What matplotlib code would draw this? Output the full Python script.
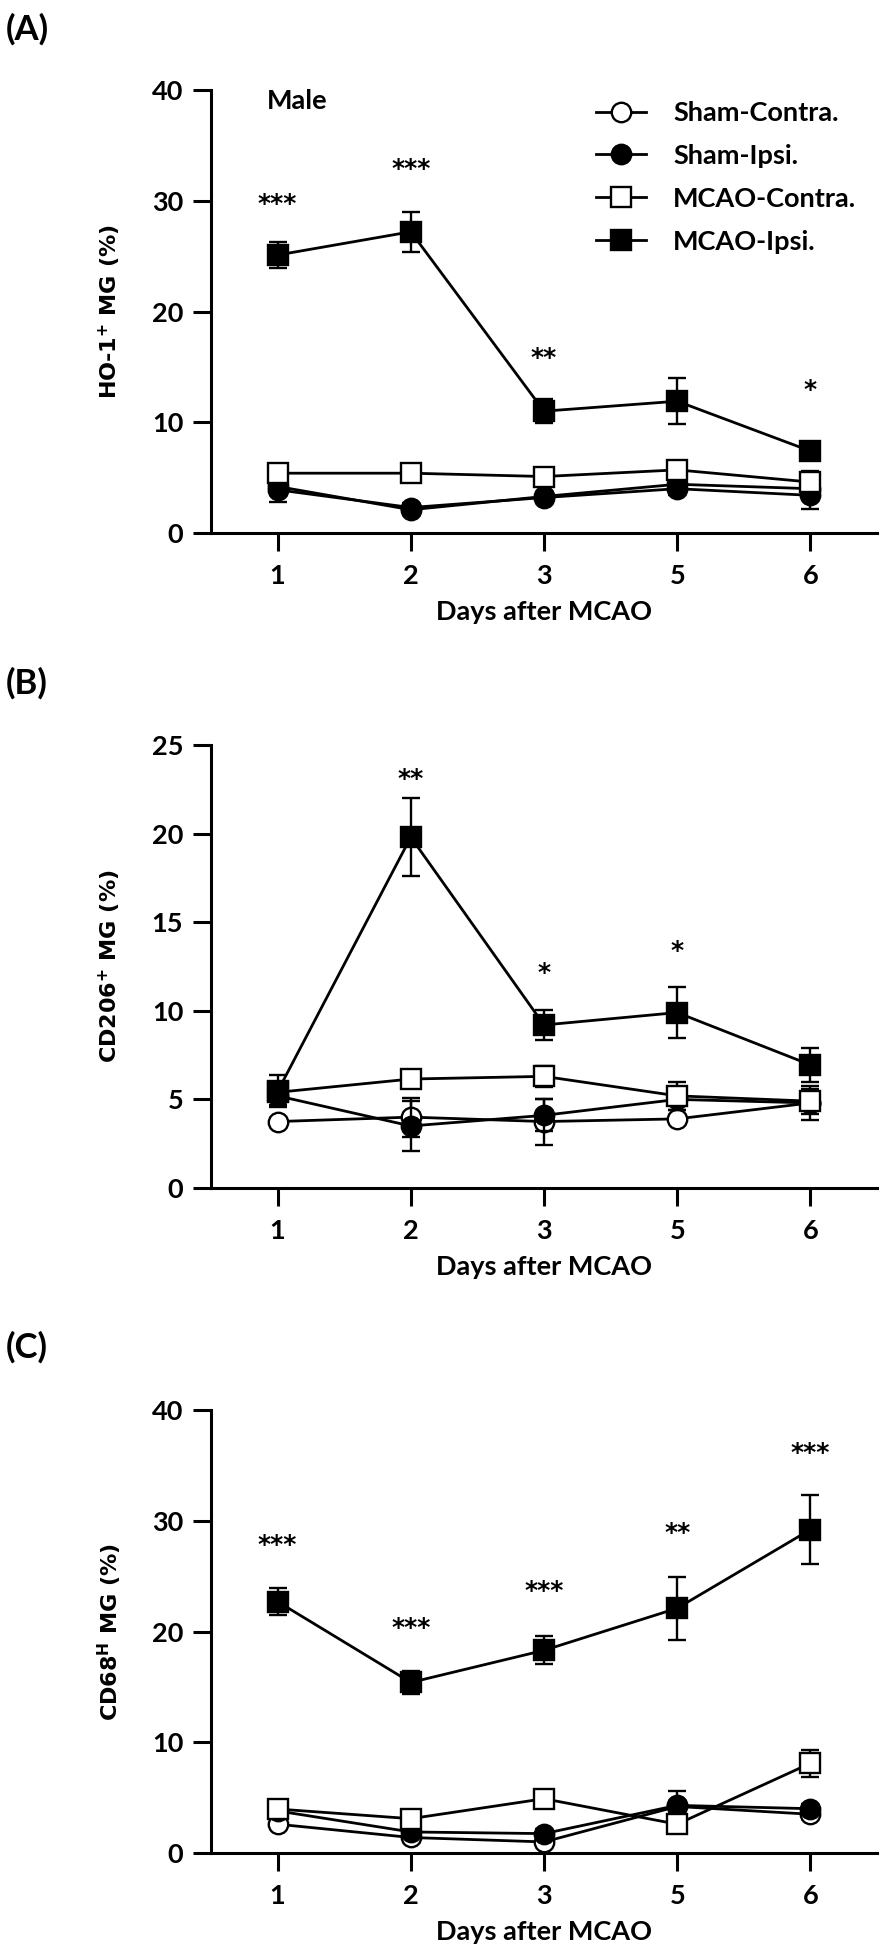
import matplotlib
matplotlib.use('Agg')
import matplotlib.pyplot as plt
from matplotlib.lines import Line2D

plt.rcParams['font.family'] = ['Lato', 'DejaVu Sans']
plt.rcParams['font.weight'] = 'bold'
plt.rcParams['mathtext.fontset'] = 'dejavusans'

days = ['1', '2', '3', '5', '6']
groups = ['Sham-Contra.', 'Sham-Ipsi.', 'MCAO-Contra.', 'MCAO-Ipsi.']

# (A) HO-1+ MG
ho1_sham_contra = [4.2, 2.1, 3.3, 4.4, 4.0]
ho1_sham_contra_err = [0.5, 0.3, 0.3, 0.5, 0.6]
ho1_sham_ipsi = [3.9, 2.3, 3.2, 4.0, 3.4]
ho1_sham_ipsi_err = [1.1, 0.4, 0.3, 0.6, 1.2]
ho1_mcao_contra = [5.4, 5.4, 5.1, 5.7, 4.6]
ho1_mcao_contra_err = [0.4, 0.3, 0.3, 0.4, 1.0]
ho1_mcao_ipsi = [25.1, 27.2, 11.0, 11.9, 7.4]
ho1_mcao_ipsi_err = [1.2, 1.8, 1.1, 2.1, 0.8]
ho1_stars = ['***', '***', '**', '', '*']
ho1_star_y = [30.3, 33.5, 16.4, 0, 13.5]

# (B) CD206+ MG
cd206_sham_contra = [3.75, 4.0, 3.75, 3.9, 4.8]
cd206_sham_contra_err = [0.2, 1.1, 1.3, 0.2, 0.4]
cd206_sham_ipsi = [5.2, 3.5, 4.1, 5.0, 4.8]
cd206_sham_ipsi_err = [0.5, 1.4, 0.9, 0.6, 0.95]
cd206_mcao_contra = [5.4, 6.15, 6.3, 5.2, 4.9]
cd206_mcao_contra_err = [0.5, 0.3, 0.6, 0.8, 0.7]
cd206_mcao_ipsi = [5.45, 19.8, 9.2, 9.9, 6.95]
cd206_mcao_ipsi_err = [0.9, 2.2, 0.85, 1.45, 0.95]
cd206_stars = ['', '**', '*', '*', '']
cd206_star_y = [0, 23.5, 12.5, 13.75, 0]

# (C) CD68H MG
cd68_sham_contra = [2.6, 1.4, 1.0, 4.2, 3.5]
cd68_sham_contra_err = [0.3, 0.3, 0.3, 0.5, 0.4]
cd68_sham_ipsi = [3.8, 1.9, 1.75, 4.3, 4.0]
cd68_sham_ipsi_err = [0.4, 0.4, 0.4, 1.3, 0.4]
cd68_mcao_contra = [3.97, 3.1, 4.9, 2.6, 8.1]
cd68_mcao_contra_err = [0.3, 0.3, 0.4, 0.5, 1.2]
cd68_mcao_ipsi = [22.7, 15.4, 18.3, 22.1, 29.2]
cd68_mcao_ipsi_err = [1.2, 1.0, 1.25, 2.85, 3.15]
cd68_stars = ['***', '***', '***', '**', '***']
cd68_star_y = [28.4, 20.9, 24.3, 29.5, 36.7]

styles = [('o', 'white'), ('o', 'black'), ('s', 'white'), ('s', 'black')]

W, H = 886, 1957
fig = plt.figure(figsize=(W / 100, H / 100), dpi=100)

panels = [
    ('(A)', r'HO-1$^{\mathbf{+}}$ MG (%)', 40, [0, 10, 20, 30, 40], 90, 533,
     [(ho1_sham_contra, ho1_sham_contra_err), (ho1_sham_ipsi, ho1_sham_ipsi_err),
      (ho1_mcao_contra, ho1_mcao_contra_err), (ho1_mcao_ipsi, ho1_mcao_ipsi_err)],
     ho1_stars, ho1_star_y, 29),
    ('(B)', r'CD206$^{\mathbf{+}}$ MG (%)', 25, [0, 5, 10, 15, 20, 25], 745, 1188,
     [(cd206_sham_contra, cd206_sham_contra_err), (cd206_sham_ipsi, cd206_sham_ipsi_err),
      (cd206_mcao_contra, cd206_mcao_contra_err), (cd206_mcao_ipsi, cd206_mcao_ipsi_err)],
     cd206_stars, cd206_star_y, 683),
    ('(C)', r'CD68$^{\mathbf{H}}$ MG (%)', 40, [0, 10, 20, 30, 40], 1410, 1853,
     [(cd68_sham_contra, cd68_sham_contra_err), (cd68_sham_ipsi, cd68_sham_ipsi_err),
      (cd68_mcao_contra, cd68_mcao_contra_err), (cd68_mcao_ipsi, cd68_mcao_ipsi_err)],
     cd68_stars, cd68_star_y, 1347),
]

left_px, right_px = 211, 877
x = list(range(len(days)))

for k, (tag, ylab, ymax, yticks, top_px, bot_px, data, stars, star_y, tag_y) in enumerate(panels):
    ax = fig.add_axes([left_px / W, 1 - bot_px / H, (right_px - left_px) / W, (bot_px - top_px) / H])
    for i, (vals, errs) in enumerate(data):
        m, fc = styles[i]
        ax.errorbar(x, vals, yerr=errs, color='black', lw=2.0, marker=m, ms=14,
                    mfc=fc, mec='black', mew=1.7, elinewidth=1.7, capsize=6.5,
                    capthick=1.7, zorder=3 + i, clip_on=False)
    # significance marks, nudged down so the glyphs sit on the read value
    for xi, s, sy in zip(x, stars, star_y):
        if s:
            ax.annotate(s, (xi, sy), xytext=(0, -5), textcoords='offset points',
                        ha='center', va='center', fontsize=18, fontweight='bold',
                        family='DejaVu Sans')
    ax.set_xlim(-0.5, 4.5)
    ax.set_ylim(0, ymax)
    ax.set_xticks(x)
    ax.set_xticklabels(days)
    ax.set_yticks(yticks)
    for side in ['top', 'right']:
        ax.spines[side].set_visible(False)
    for side in ['left', 'bottom']:
        ax.spines[side].set_linewidth(2.2)
    ax.tick_params(axis='both', width=2.2, length=13, labelsize=19.5, pad=7)
    ax.tick_params(axis='x', pad=9)
    for lab in ax.get_xticklabels() + ax.get_yticklabels():
        lab.set_fontweight('bold')

    fig.text(6 / W, 1 - tag_y / H, tag, ha='left', va='center', fontsize=25, fontweight='bold')
    fig.text(110 / W, 1 - (top_px + bot_px) / 2 / H, ylab, rotation=90, ha='center', va='center',
             fontsize=16, fontweight='bold', family='DejaVu Sans')
    fig.text((left_px + right_px) / 2 / W, 1 - (bot_px + 79) / H, 'Days after MCAO',
             ha='center', va='center', fontsize=19.5, fontweight='bold')

    if k == 0:
        ax.text((267 - left_px) / (right_px - left_px), (bot_px - 101) / (bot_px - top_px),
                'Male', transform=ax.transAxes, ha='left', va='center', fontsize=19.5,
                fontweight='bold')
        handles = [Line2D([0], [0], color='black', lw=2.0, marker=styles[i][0], ms=14,
                          mfc=styles[i][1], mec='black', mew=1.7) for i in range(4)]
        ax.legend(handles, groups, loc='upper left',
                  bbox_to_anchor=((596 - left_px) / (right_px - left_px), (bot_px - 101) / (bot_px - top_px)),
                  frameon=False, handlelength=1.85, handletextpad=1.0,
                  labelspacing=0.7, borderpad=0, borderaxespad=0,
                  prop={'weight': 'bold', 'size': 19.5})

fig.savefig('out.png', dpi=100)
